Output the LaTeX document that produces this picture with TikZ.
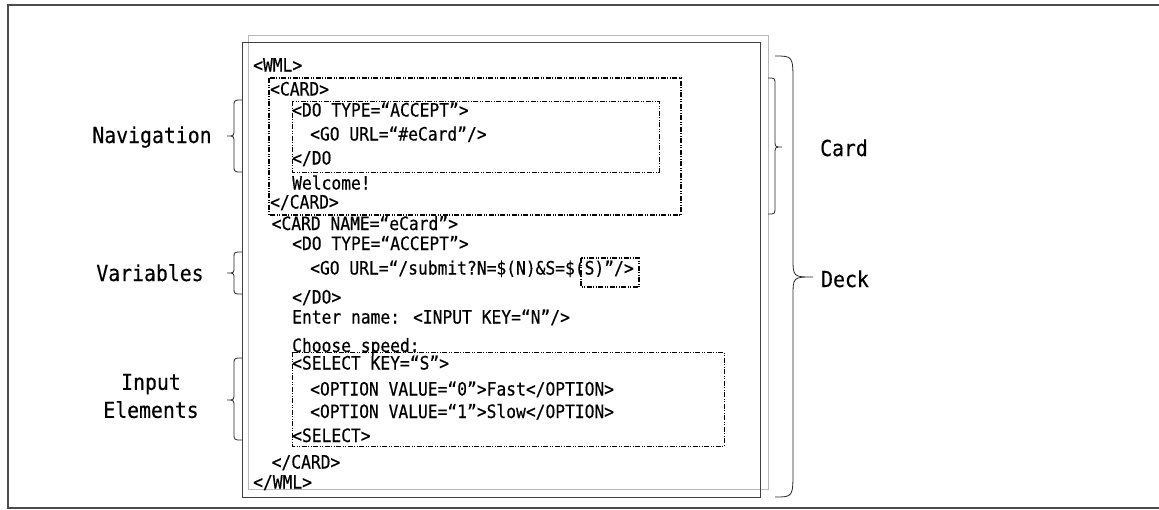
\documentclass[tikz,border=0pt]{standalone}
\usepackage{fontspec}
\newfontfamily\codefont[FakeStretch=0.885,FakeBold=0.4]{DejaVu Sans Mono}
\newfontfamily\labfont[FakeStretch=0.9,FakeBold=0.3]{DejaVu Sans Mono}
\newcommand\drawbrace[8]{%
  \draw[bracestyle] (#1,#4) .. controls (#2,#4) .. (#2,#4-#7) -- (#2,#5+#8)
    .. controls (#2,#5) .. (#3,#5) .. controls (#2,#5) .. (#2,#5-#8)
    -- (#2,#6+#7) .. controls (#2,#6) .. (#1,#6);}
\begin{document}
\begin{tikzpicture}[x=1pt,y=1pt,
  code/.style={anchor=base west,inner sep=0pt,font=\codefont\fontsize{18.4}{18.4}\selectfont},
  lab/.style={inner sep=0pt,font=\labfont\fontsize{22}{28}\selectfont,align=center},
  bracestyle/.style={line width=0.8pt,black!85},
  ddd/.style={dash pattern={on 5pt off 1.5pt on 1pt off 1.5pt on 1pt off 1.5pt}},
  frame/.style={line width=1.5pt,black!70}]
\useasboundingbox (0,0) rectangle (1159,-509);
% outer frame
\draw[frame] (1159,-5) -- (8,-5) -- (8,-508) -- (1159,-508);
% code sheets
\draw[gray!55,line width=1pt] (248,-35) rectangle (768,-489);
\draw[black!75,line width=1pt] (242,-42) rectangle (760,-497);
% dashed boxes
\draw[ddd,line width=1.3pt] (269,-78) rectangle (681,-215);
\draw[ddd,line width=0.9pt] (292,-101) rectangle (659,-172);
\draw[ddd,line width=1.1pt] (581,-258) rectangle (639,-287);
\draw[ddd,line width=0.9pt] (292,-352) rectangle (724,-446);
% code lines
\node[code] (l1) at (253,-71.5) {<WML>};
\node[code] (l2) at (270,-95.5) {<CARD>};
\node[code] (l3) at (292,-116.5) {<DO TYPE=“ACCEPT”>};
\node[code] (l4) at (310,-140.5) {<GO URL=“\#eCard”/>};
\node[code] (l5) at (292,-164.5) {</DO};
\node[code] (l6) at (292,-189.5) {Welcome!};
\node[code] (l7) at (270,-208.5) {</CARD>};
\node[code] (l8) at (271.5,-230) {<CARD NAME=“eCard”>};
\node[code] (l9) at (292,-250) {<DO TYPE=“ACCEPT”>};
\node[code] (l10) at (310,-274.5) {<GO URL=“/submit?N=\$(N)\&S=\$(S)”/>};
\node[code] (l11) at (292,-303.5) {</DO>};
\node[code] (l12) at (292,-323.5) {Enter name: <INPUT KEY=“N”/>};
\node[code] (l13) at (292,-352) {Choose speed:};
\node[code] (l14) at (292,-369.5) {<SELECT KEY=“S”>};
\node[code] (l15) at (310,-395.5) {<OPTION VALUE=“0”>Fast</OPTION>};
\node[code] (l16) at (310,-418) {<OPTION VALUE=“1”>Slow</OPTION>};
\node[code] (l17) at (292,-442) {<SELECT>};
\node[code] (l18) at (271.5,-468.5) {</CARD>};
\node[code] (l19) at (253,-488.5) {</WML>};
% labels
\node[lab,anchor=base] (nav) at (152,-143) {Navigation};
\node[lab,anchor=base] (var) at (150,-281) {Variables};
\node[lab,anchor=center] (inp) at (151,-396) {Input\\Elements};
\node[lab,anchor=base] (card) at (844,-156) {Card};
\node[lab,anchor=base] (deck) at (845,-287) {Deck};
% braces
\drawbrace{242}{234}{227}{-100}{-136}{-172}{7}{7}
\drawbrace{242}{234}{227}{-252}{-273}{-294}{6}{6}
\drawbrace{242}{234}{227}{-358}{-400}{-440}{7}{7}
\drawbrace{768}{775}{782}{-78}{-147}{-214}{7}{7}
\drawbrace{775}{793}{813}{-56}{-277}{-497}{27}{20}
\end{tikzpicture}
\end{document}
